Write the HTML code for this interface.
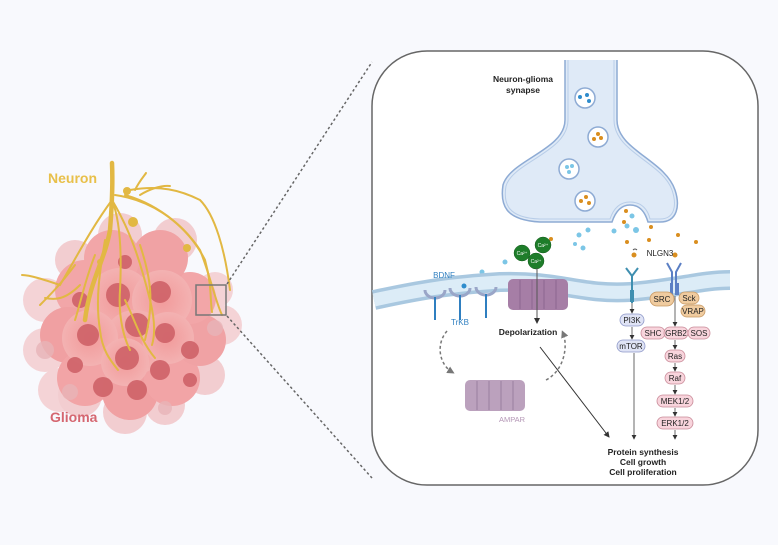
<!DOCTYPE html>
<html><head><meta charset="utf-8"><style>
html,body{margin:0;padding:0;background:#f8f9fd;}
svg{display:block;font-family:"Liberation Sans",sans-serif;}
</style></head><body>
<svg width="778" height="545" viewBox="0 0 778 545" xmlns="http://www.w3.org/2000/svg">
<defs>
<marker id="ah" markerWidth="6" markerHeight="6" refX="5" refY="3" orient="auto"><path d="M0,0 L6,3 L0,6 z" fill="#333"/></marker>
<marker id="ag" markerWidth="5" markerHeight="5" refX="3" refY="2.5" orient="auto"><path d="M0,0 L5,2.5 L0,5 z" fill="#777"/></marker>
<radialGradient id="cell" cx="50%" cy="50%" r="50%"><stop offset="0" stop-color="#f29a9a"/><stop offset="1" stop-color="#f3b2b2"/></radialGradient>
</defs>
<rect width="778" height="545" fill="#f8f9fd"/>

<!-- glioma cluster -->
<g>
<circle cx="45" cy="300" r="22" fill="#f4d3d6"/>
<circle cx="45" cy="350" r="22" fill="#f4d3d6"/>
<circle cx="60" cy="390" r="22" fill="#f4d3d6"/>
<circle cx="80" cy="395" r="22" fill="#f2cdd0"/>
<circle cx="125" cy="412" r="22" fill="#f2cdd0"/>
<circle cx="165" cy="405" r="20" fill="#f2cdd0"/>
<circle cx="205" cy="375" r="20" fill="#f2cdd0"/>
<circle cx="222" cy="325" r="20" fill="#f4d3d6"/>
<circle cx="215" cy="290" r="18" fill="#f4d3d6"/>
<circle cx="75" cy="260" r="20" fill="#f2cdd0"/>
<circle cx="175" cy="240" r="22" fill="#f2cdd0"/>
<circle cx="120" cy="235" r="22" fill="#f2cdd0"/>
<circle cx="85" cy="290" r="30" fill="#f2a6a8"/>
<circle cx="68" cy="335" r="28" fill="#f0a0a2"/>
<circle cx="85" cy="378" r="28" fill="#f2a4a6"/>
<circle cx="130" cy="392" r="28" fill="#f0a0a2"/>
<circle cx="172" cy="378" r="28" fill="#f2a4a6"/>
<circle cx="200" cy="340" r="26" fill="#f0a2a4"/>
<circle cx="190" cy="298" r="26" fill="#f2a6a8"/>
<circle cx="160" cy="258" r="28" fill="#f0a2a4"/>
<circle cx="112" cy="258" r="28" fill="#f2a6a8"/>
<circle cx="120" cy="300" r="32" fill="url(#cell)"/>
<circle cx="162" cy="300" r="30" fill="url(#cell)"/>
<circle cx="135" cy="342" r="32" fill="url(#cell)"/>
<circle cx="90" cy="338" r="28" fill="url(#cell)"/>
<circle cx="168" cy="338" r="26" fill="url(#cell)"/>
<circle cx="125" cy="362" r="24" fill="url(#cell)"/>
<g fill="#cf6268" opacity="0.9">
<circle cx="118" cy="295" r="12"/><circle cx="160" cy="292" r="11"/><circle cx="137" cy="325" r="12"/>
<circle cx="88" cy="335" r="11"/><circle cx="165" cy="333" r="10"/><circle cx="127" cy="358" r="12"/>
<circle cx="160" cy="370" r="10"/><circle cx="103" cy="387" r="10"/><circle cx="137" cy="390" r="10"/>
<circle cx="80" cy="300" r="8"/><circle cx="190" cy="350" r="9"/><circle cx="75" cy="365" r="8"/>
<circle cx="190" cy="380" r="7"/><circle cx="125" cy="262" r="7"/>
</g>
<g fill="#e7b4b8" opacity="0.8"><circle cx="45" cy="350" r="9"/><circle cx="215" cy="328" r="8"/><circle cx="70" cy="392" r="8"/><circle cx="165" cy="408" r="7"/></g>
</g>
<!-- neuron -->
<g fill="none" stroke="#e2b843" stroke-width="2" stroke-linecap="round">
<path d="M112,163 C113,185 112,205 110,230 C105,260 90,280 85,320" stroke-width="4.5"/>
<path d="M112,200 C120,220 122,250 120,290 C118,320 125,340 130,350"/>
<path d="M112,200 C90,230 75,260 60,285 C45,280 30,275 22,275"/>
<path d="M75,265 C60,285 50,295 40,305"/>
<path d="M112,200 C130,230 140,260 150,300 C155,320 155,335 152,345"/>
<path d="M115,195 C150,200 180,220 200,250 C210,275 215,300 222,315"/>
<path d="M125,195 C160,205 190,230 205,260 C212,285 210,300 212,312"/>
<path d="M130,190 C160,185 180,190 200,200 C215,215 225,250 230,290"/>
<path d="M105,240 C100,270 95,300 100,330 C102,350 110,360 118,370"/>
<path d="M140,245 C150,275 155,300 145,340"/>
<path d="M140,195 C148,190 160,185 170,186"/>
<path d="M135,190 C140,180 145,175 146,173"/>
<path d="M80,285 C65,300 55,300 45,298"/>
<path d="M125,300 C135,320 140,340 155,358"/>
<path d="M95,255 C85,280 80,305 75,320"/>
</g>
<circle cx="127" cy="191" r="4" fill="#e2b843"/><circle cx="133" cy="222" r="5" fill="#e2b843"/><circle cx="187" cy="248" r="4" fill="#e2b843"/><circle cx="100" cy="262" r="3" fill="#e2b843"/>
<text x="48" y="183" font-size="14" font-weight="bold" fill="#e8c04a">Neuron</text>
<text x="50" y="422" font-size="14" font-weight="bold" fill="#d56670">Glioma</text>
<rect x="196" y="285" width="30" height="30" fill="none" stroke="#777" stroke-width="1.5"/>
<line x1="227" y1="284" x2="372" y2="62" stroke="#666" stroke-width="1.5" stroke-dasharray="2.5,2.5"/>
<line x1="227" y1="316" x2="372" y2="478" stroke="#666" stroke-width="1.5" stroke-dasharray="2.5,2.5"/>

<!-- panel -->
<rect x="372" y="51" width="386" height="434" rx="55" fill="#fff" stroke="#666" stroke-width="1.5"/>
<text x="523" y="82" font-size="8.5" font-weight="bold" text-anchor="middle" fill="#222">Neuron-glioma</text>
<text x="523" y="93" font-size="8.5" font-weight="bold" text-anchor="middle" fill="#222">synapse</text>

<!-- axon terminal -->
<path d="M565,60 L565,120 C565,150 510,160 503,185 C500,205 505,220 540,222 L612,222 C616,210 622,205 630,205 C640,205 645,212 648,222 L660,222 C678,222 680,205 675,190 C665,160 617,150 617,120 L617,60" fill="#dfeaf7" stroke="#8eabd4" stroke-width="1.5"/>
<path d="M568,60 L568,120 C568,152 513,162 506,186 C503,204 508,218 540,219 L610,219 C614,207 621,202 630,202 C642,202 648,210 650,219 L660,219 C675,219 677,205 672,190 C662,162 614,152 614,120 L614,60" fill="none" stroke="#b8cde8" stroke-width="1"/>
<g stroke="#8eabd4" stroke-width="1.5" fill="#fff">
<circle cx="585" cy="98" r="10"/><circle cx="598" cy="137" r="10"/><circle cx="569" cy="169" r="10"/><circle cx="585" cy="201" r="10"/>
</g>
<g fill="#2f8ccc"><circle cx="580" cy="97" r="2"/><circle cx="587" cy="95" r="2"/><circle cx="589" cy="101" r="2"/></g>
<g fill="#d98e1f"><circle cx="598" cy="134" r="2"/><circle cx="594" cy="139" r="2"/><circle cx="601" cy="138" r="2"/>
<circle cx="586" cy="197" r="2"/><circle cx="581" cy="201" r="2"/><circle cx="589" cy="203" r="2"/></g>
<g fill="#7cc6e6"><circle cx="567" cy="167" r="2"/><circle cx="572" cy="166" r="2"/><circle cx="569" cy="172" r="2"/></g>
<!-- released dots -->
<g fill="#7cc6e6"><circle cx="632" cy="216" r="2.5"/><circle cx="627" cy="226" r="2.5"/><circle cx="636" cy="230" r="3"/><circle cx="614" cy="231" r="2.5"/><circle cx="588" cy="230" r="2.5"/><circle cx="579" cy="235" r="2.5"/><circle cx="575" cy="244" r="2"/><circle cx="583" cy="248" r="2.5"/><circle cx="505" cy="262" r="2.5"/><circle cx="482" cy="272" r="2.5"/><circle cx="477" cy="280" r="2"/><circle cx="486" cy="285" r="2.5"/><circle cx="440" cy="285" r="2.5"/></g>
<g fill="#d98e1f"><circle cx="626" cy="211" r="2"/><circle cx="624" cy="222" r="2"/><circle cx="651" cy="227" r="2"/><circle cx="627" cy="242" r="2"/><circle cx="649" cy="240" r="2"/><circle cx="678" cy="235" r="2"/><circle cx="696" cy="242" r="2"/><circle cx="551" cy="239" r="2"/><circle cx="634" cy="255" r="2.5"/><circle cx="675" cy="255" r="2.5"/></g>
<!-- Ca -->
<g fill="#1e7d2a" stroke="#125a1a" stroke-width="0.5"><circle cx="543" cy="245" r="8"/><circle cx="522" cy="253" r="8"/><circle cx="536" cy="261" r="8"/></g>
<g fill="#fff" font-size="5" text-anchor="middle"><text x="543" y="247">Ca²⁺</text><text x="522" y="255">Ca²⁺</text><text x="536" y="263">Ca²⁺</text></g>

<!-- membrane -->
<path d="M374,300 C420,290 450,285 500,282 C560,280 580,295 630,292 C680,288 700,280 730,280" fill="none" stroke="#a9c8e0" stroke-width="20"/>
<path d="M374,300 C420,290 450,285 500,282 C560,280 580,295 630,292 C680,288 700,280 730,280" fill="none" stroke="#dcecf7" stroke-width="13"/>

<!-- TrKB receptors -->
<g fill="none" stroke="#9aa6c8" stroke-width="3">
<path d="M425,290 A10,8 0 0,0 445,290"/><path d="M450,288 A10,8 0 0,0 470,288"/><path d="M476,287 A10,8 0 0,0 496,287"/>
</g>
<g stroke="#2f7fc0" stroke-width="2"><line x1="435" y1="297" x2="435" y2="320"/><line x1="460" y1="295" x2="460" y2="320"/><line x1="486" y1="294" x2="486" y2="318"/></g>
<circle cx="464" cy="286" r="2.5" fill="#2f8ccc"/>
<text x="444" y="278" font-size="8" fill="#2f7fc0" text-anchor="middle">BDNF</text>
<text x="460" y="325" font-size="8" fill="#2f7fc0" text-anchor="middle">TrKB</text>

<!-- NMDA channel -->
<g fill="#a67ea6"><rect x="508" y="279" width="60" height="31" rx="5"/></g>
<g stroke="#8c6590" stroke-width="1"><line x1="520" y1="280" x2="520" y2="309"/><line x1="532" y1="280" x2="532" y2="309"/><line x1="544" y1="280" x2="544" y2="309"/><line x1="556" y1="280" x2="556" y2="309"/></g>
<line x1="537" y1="268" x2="537" y2="323" stroke="#555" stroke-width="1" marker-end="url(#ah)"/>
<text x="528" y="335" font-size="8.5" font-weight="bold" fill="#222" text-anchor="middle">Depolarization</text>

<!-- AMPAR -->
<g fill="#b497b6" opacity="0.9"><rect x="465" y="380" width="60" height="31" rx="5"/></g>
<g stroke="#9a7ea0" stroke-width="1"><line x1="477" y1="381" x2="477" y2="410"/><line x1="489" y1="381" x2="489" y2="410"/><line x1="501" y1="381" x2="501" y2="410"/><line x1="513" y1="381" x2="513" y2="410"/></g>
<text x="512" y="422" font-size="7.5" fill="#b497b6" text-anchor="middle">AMPAR</text>
<path d="M447,331 C435,345 440,365 452,372" fill="none" stroke="#777" stroke-width="1.5" stroke-dasharray="3,2.5" marker-end="url(#ag)"/>
<path d="M546,380 C565,370 568,345 563,333" fill="none" stroke="#777" stroke-width="1.5" stroke-dasharray="3,2.5" marker-end="url(#ag)"/>
<line x1="540" y1="347" x2="609" y2="437" stroke="#333" stroke-width="1" marker-end="url(#ah)"/>

<!-- NLGN3 receptors -->
<g fill="none" stroke="#3f8fb0" stroke-width="2"><path d="M626,268 L632,276 L638,268"/><line x1="632" y1="276" x2="632" y2="303"/></g>
<rect x="630" y="290" width="4" height="12" fill="#3f8fb0"/>
<g fill="none" stroke="#5b7fc4" stroke-width="2"><path d="M667,263 L672,272 L672,295 M681,263 L676,272 L676,295"/></g>
<rect x="670" y="283" width="3" height="12" fill="#5b7fc4"/><rect x="676" y="283" width="3" height="12" fill="#5b7fc4"/>
<text x="660" y="256" font-size="8" fill="#222" text-anchor="middle">NLGN3</text>
<path d="M633,250 q2,-2 4,0" fill="none" stroke="#555" stroke-width="1"/>

<!-- SRC group -->
<g font-size="8" text-anchor="middle" fill="#222">
<rect x="650" y="292" width="24" height="14" rx="7" fill="#efcb9f" stroke="#c89a64" stroke-width="0.8"/><text x="662" y="302">SRC</text>
<rect x="679" y="292" width="20" height="12" rx="6" fill="#efcb9f" stroke="#c89a64" stroke-width="0.8"/><text x="689" y="301">Sck</text>
<rect x="681" y="305" width="24" height="12" rx="6" fill="#efcb9f" stroke="#c89a64" stroke-width="0.8"/><text x="693" y="314">VRAP</text>
<rect x="620" y="314" width="24" height="12" rx="6" fill="#dfe3f5" stroke="#8e98c8" stroke-width="0.8"/><text x="632" y="323">PI3K</text>
<rect x="617" y="340" width="28" height="12" rx="6" fill="#dfe3f5" stroke="#8e98c8" stroke-width="0.8"/><text x="631" y="349">mTOR</text>
<rect x="641" y="327" width="24" height="12" rx="6" fill="#f8d4dc" stroke="#c88a98" stroke-width="0.8"/><text x="653" y="336">SHC</text>
<rect x="664" y="327" width="24" height="12" rx="6" fill="#f8d4dc" stroke="#c88a98" stroke-width="0.8"/><text x="676" y="336">GRB2</text>
<rect x="688" y="327" width="22" height="12" rx="6" fill="#f8d4dc" stroke="#c88a98" stroke-width="0.8"/><text x="699" y="336">SOS</text>
<rect x="665" y="350" width="20" height="12" rx="6" fill="#f8d4dc" stroke="#c88a98" stroke-width="0.8"/><text x="675" y="359">Ras</text>
<rect x="665" y="372" width="20" height="12" rx="6" fill="#f8d4dc" stroke="#c88a98" stroke-width="0.8"/><text x="675" y="381">Raf</text>
<rect x="657" y="395" width="36" height="12" rx="6" fill="#f8d4dc" stroke="#c88a98" stroke-width="0.8"/><text x="675" y="404">MEK1/2</text>
<rect x="657" y="417" width="36" height="12" rx="6" fill="#f8d4dc" stroke="#c88a98" stroke-width="0.8"/><text x="675" y="426">ERK1/2</text>
</g>
<g stroke="#444" stroke-width="0.8" marker-end="url(#ah)">
<line x1="632" y1="303" x2="632" y2="313"/>
<line x1="632" y1="327" x2="632" y2="339"/>
<line x1="675" y1="296" x2="675" y2="326"/>
<line x1="675" y1="340" x2="675" y2="349"/>
<line x1="675" y1="363" x2="675" y2="371"/>
<line x1="675" y1="385" x2="675" y2="394"/>
<line x1="675" y1="408" x2="675" y2="416"/>
<line x1="675" y1="430" x2="675" y2="439"/>
<line x1="634" y1="353" x2="634" y2="439"/>
</g>
<g font-size="8.5" font-weight="bold" text-anchor="middle" fill="#222">
<text x="643" y="455">Protein synthesis</text><text x="643" y="465">Cell growth</text><text x="643" y="475">Cell proliferation</text>
</g>
</svg>
</body></html>
